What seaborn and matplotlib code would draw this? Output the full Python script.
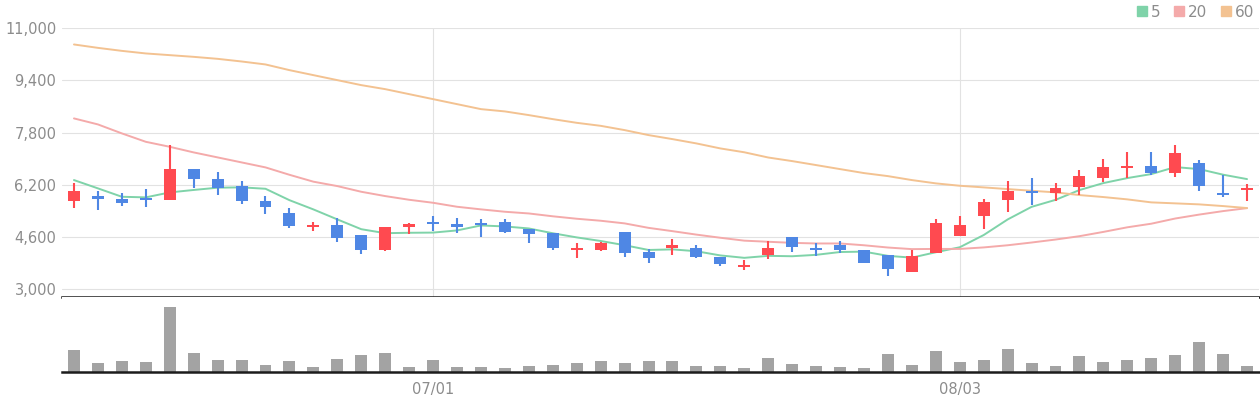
import matplotlib
matplotlib.use("Agg")
import matplotlib.pyplot as plt
from matplotlib.lines import Line2D
from matplotlib.ticker import FuncFormatter
import seaborn as sns
import pandas as pd

# daily candles (KRW)
open_ = [5715, 5859, 5767, 5807, 5737, 6685, 6379, 6165, 5706, 5339,
         4911, 4972, 4666, 4207, 4911, 5064, 5002, 5033, 5064, 4850,
         4727, 4216, 4207, 4758, 4146, 4268, 4268, 3993, 3687, 4054,
         4605, 4268, 4360, 4207, 4054, 3534, 4115, 4635, 5247, 5737,
         6012, 5951, 6135, 6410, 6725, 6777, 6563, 6869, 5951, 6043]
close = [6012, 5767, 5654, 5737, 6685, 6389, 6113, 5706, 5523, 4941,
         4972, 4583, 4207, 4911, 5002, 5002, 4911, 4972, 4758, 4696,
         4268, 4277, 4421, 4115, 3962, 4360, 3993, 3778, 3748, 4268,
         4299, 4207, 4207, 3809, 3625, 4023, 5033, 4972, 5676, 6012,
         5951, 6104, 6471, 6747, 6777, 6563, 7175, 6165, 5890, 6104]
high = [6266, 6012, 5951, 6073, 7420, 6685, 6594, 6318, 5859, 5492,
        5064, 5186, 4666, 4911, 5033, 5247, 5186, 5155, 5155, 4850,
        4727, 4421, 4452, 4758, 4237, 4543, 4360, 3993, 3901, 4482,
        4605, 4421, 4482, 4207, 4054, 4207, 5155, 5247, 5767, 6318,
        6410, 6257, 6655, 6991, 7206, 7206, 7420, 6961, 6502, 6226]
low = [5492, 5431, 5553, 5523, 5737, 6104, 5890, 5614, 5308, 4880,
       4788, 4452, 4084, 4176, 4696, 4788, 4727, 4605, 4727, 4421,
       4207, 3962, 4176, 3993, 3809, 4054, 3962, 3717, 3595, 3931,
       4146, 4023, 4115, 3809, 3411, 3534, 4115, 4635, 4850, 5370,
       5584, 5706, 5890, 6288, 6410, 6502, 6441, 6012, 5829, 5706]
volume = [67, 28, 34, 31, 196, 58, 37, 37, 22, 34,
          16, 40, 52, 58, 16, 37, 16, 16, 13, 19,
          22, 28, 34, 28, 34, 34, 19, 19, 13, 43,
          25, 19, 16, 13, 55, 22, 64, 31, 37, 70,
          28, 19, 49, 31, 37, 43, 52, 91, 55, 19]

# moving averages as drawn
ma5 = [6349, 6095, 5838, 5819, 5971, 6046, 6116, 6126, 6083, 5734,
       5451, 5145, 4845, 4723, 4735, 4741, 4807, 4960, 4929, 4868,
       4721, 4594, 4484, 4355, 4209, 4227, 4170, 4042, 3968, 4029,
       4017, 4060, 4146, 4158, 4029, 3974, 4139, 4292, 4666, 5143,
       5529, 5743, 6043, 6257, 6410, 6532, 6747, 6685, 6514, 6379]
ma20 = [8237, 8053, 7778, 7521, 7368, 7196, 7043, 6890, 6737, 6511,
        6300, 6165, 5991, 5859, 5746, 5654, 5532, 5452, 5379, 5327,
        5240, 5165, 5104, 5023, 4886, 4785, 4679, 4583, 4494, 4460,
        4427, 4408, 4408, 4353, 4284, 4235, 4241, 4241, 4287, 4353,
        4437, 4528, 4631, 4762, 4903, 5013, 5172, 5292, 5399, 5490]
ma60 = [10501, 10397, 10305, 10226, 10174, 10122, 10061, 9980, 9889, 9715,
        9562, 9409, 9256, 9133, 8980, 8827, 8674, 8521, 8451, 8338,
        8215, 8102, 8010, 7879, 7726, 7603, 7471, 7318, 7200, 7040,
        6930, 6808, 6685, 6563, 6470, 6349, 6248, 6175, 6125, 6073,
        6022, 5972, 5890, 5829, 5758, 5666, 5636, 5605, 5553, 5492]

tick_pos = [15, 37]
tick_labels = ["07/01", "08/03"]
price_ticks = [3000, 4600, 6200, 7800, 9400, 11000]

UP, DOWN = "#ff4a50", "#4f87e4"
MA_COLORS = {"5": "#7fd3a9", "20": "#f4aaaa", "60": "#f3c291"}
GRAY = "#8c8c8c"

df = pd.DataFrame({"i": range(len(close)), "open": open_, "close": close,
                   "high": high, "low": low, "vol": volume,
                   "5": ma5, "20": ma20, "60": ma60})
df["color"] = [UP if c >= o else DOWN for o, c in zip(df["open"], df["close"])]
df["body_lo"] = df[["open", "close"]].min(axis=1)
df["body_h"] = (df["close"] - df["open"]).abs().clip(lower=55)

sns.set_theme(style="white")
plt.rcParams['font.family'] = ['DejaVu Sans']

fig = plt.figure(figsize=(12.6, 4), dpi=100)
ax = fig.add_axes([62 / 1260, 103 / 400, 1197 / 1260, 269 / 400])
axv = fig.add_axes([62 / 1260, 28 / 400, 1197 / 1260, 75 / 400], sharex=ax)

# moving average lines (behind the candles)
for key, col in MA_COLORS.items():
    sns.lineplot(data=df, x="i", y=key, color=col, linewidth=1.4, ax=ax, zorder=2)

# candles
ax.vlines(df["i"], df["low"], df["high"], colors=df["color"], linewidth=1.5, zorder=3)
ax.bar(df["i"], df["body_h"], bottom=df["body_lo"], width=0.5, color=df["color"],
       linewidth=0, zorder=3)

# volume
sns.barplot(data=df, x="i", y="vol", native_scale=True, color="#a3a3a3",
            saturation=1, width=0.5, linewidth=0, ax=axv)

ax.set_xlim(-0.5, 49.5)
ax.set_ylim(2769, 11005)
ax.set_yticks(price_ticks)
ax.yaxis.set_major_formatter(FuncFormatter(lambda v, p: f"{int(v):,}"))
ax.set_xticks(tick_pos)
axv.set_xticks(tick_pos, tick_labels)
ax.grid(True, color="#e2e2e2", linewidth=0.8)
ax.set_axisbelow(True)
ax.set_xlabel("")
ax.set_ylabel("")
ax.tick_params(axis="x", length=0, labelbottom=False)
ax.tick_params(axis="y", length=0, pad=4, labelcolor=GRAY, labelsize=10.5)
for s in ["top", "left", "right"]:
    ax.spines[s].set_visible(False)
ax.spines["bottom"].set_color("#1c1c1c")
ax.spines["bottom"].set_linewidth(1.8)

axv.set_ylim(0, 225)
axv.set_yticks([])
axv.set_xlabel("")
axv.set_ylabel("")
axv.grid(False)
axv.tick_params(axis="x", length=4, width=1.5, color="#1c1c1c", pad=3,
                labelcolor=GRAY, labelsize=10.5)
for s in ["top", "left", "right"]:
    axv.spines[s].set_visible(False)
axv.spines["bottom"].set_color("#1c1c1c")
axv.spines["bottom"].set_linewidth(1.8)
axv.set_xlim(-0.5, 49.5)

handles = [Line2D([], [], marker="s", linestyle="", markersize=7.5, color=c)
           for c in MA_COLORS.values()]
fig.legend(handles, list(MA_COLORS.keys()), loc="upper right",
           bbox_to_anchor=(0.999, 1.0), ncol=3, frameon=False,
           handletextpad=0.1, columnspacing=0.7, handlelength=1.0,
           fontsize=11, labelcolor=GRAY, borderaxespad=0.1, borderpad=0.2)

fig.savefig("out.png", dpi=100)
